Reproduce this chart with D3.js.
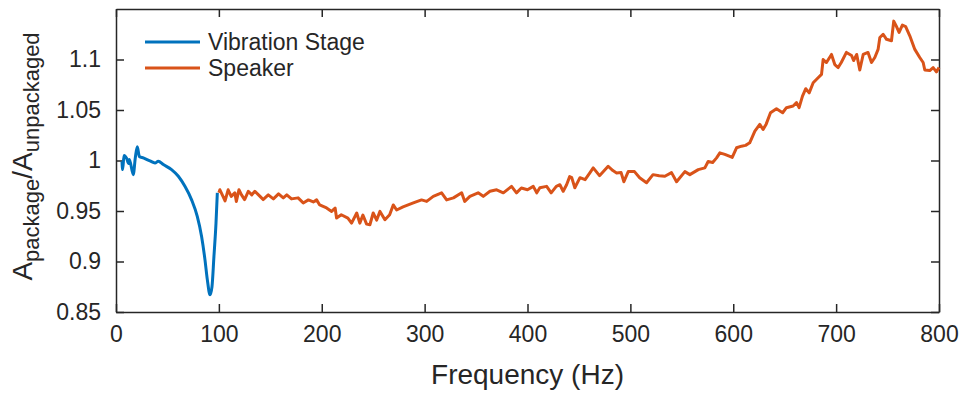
<!DOCTYPE html>
<html>
<head>
<meta charset="utf-8">
<script src="https://cdn.jsdelivr.net/npm/d3@7"></script>
<style>
    body { margin: 0; background: #fff; }
    #chart { width: 965px; height: 394px; }
    text { font-family: "Liberation Sans", Arial, Helvetica, sans-serif; fill: #262626; }
</style>
</head>
<body>
<div id="chart"></div>
<script>
// region Data
const stageFreq = [5.8, 6.5, 7.8, 10.4, 12.3, 13, 16.8, 18.8, 20.7, 22.7, 26.6, 33, 37.9, 41.1, 46, 54,
    60.6, 67, 73.5, 79, 83.2, 86.5, 88.8, 91.4, 93.3, 95.2, 97.2, 98.5];
const stageRatio = [0.999, 0.991, 1.005, 1.002, 0.997, 1.001, 0.986, 1.003, 1.0135, 1.004, 1.0026, 0.9996, 0.9976, 0.9993, 0.996, 0.991,
    0.9844, 0.9744, 0.961, 0.9446, 0.9248, 0.9016, 0.8818, 0.867, 0.875, 0.905, 0.938, 0.968];

const speakerFreq = [100, 101, 104, 106, 109, 112, 115.5, 117, 119.5, 122, 125, 128.6, 132, 135, 140, 143, 148, 153, 158, 162.6,
    166, 170.6, 177, 182, 187, 191.8, 195, 198, 204.7, 209.6, 213, 214.4, 219, 225.4, 229, 234, 237, 240, 243.6, 246.8,
    250, 253.4, 256.6, 261.4, 266, 269.5, 272.8, 279, 289, 297, 302, 308.4, 316.5, 321.4, 328, 336, 339, 344, 352, 357,
    363.5, 370, 376.5, 384.5, 389.3, 394, 400, 405.6, 409, 412, 418.6, 423, 428, 431.5, 434.7, 438, 441, 443, 446, 451,
    456, 460.6, 463.9, 470, 478.4, 483, 486.6, 491, 493.7, 497.9, 504, 509, 515.7, 522, 528, 533.5, 540, 544.9, 553, 557.8,
    566, 572.4, 575.6, 580, 583.8, 587, 591.8, 596.7, 599, 603.2, 608, 612, 616, 621, 625.8, 629, 632, 636.2, 642, 648,
    651.7, 658.2, 661.5, 664, 667.3, 670.5, 673.8, 677.7, 682.5, 685.8, 687.4, 690.6, 695.5, 698.7, 702, 705, 710, 715, 717, 720,
    723, 726.3, 731, 734.4, 737.6, 740.8, 742.5, 745.7, 749, 753.8, 756, 758.5, 761.2, 764.4, 767.6, 771.6, 776.5, 781.3, 784.6, 786.2,
    791, 794.3, 797.5, 800];
const speakerRatio = [0.968, 0.971, 0.9645, 0.960, 0.971, 0.9645, 0.968, 0.9595, 0.971, 0.966, 0.9613, 0.9695, 0.966, 0.9695, 0.9645, 0.9613, 0.966, 0.962, 0.967, 0.963,
    0.966, 0.962, 0.963, 0.958, 0.961, 0.959, 0.961, 0.956, 0.953, 0.9496, 0.953, 0.943, 0.9463, 0.943, 0.938, 0.948, 0.938, 0.946, 0.937, 0.9364,
    0.948, 0.941, 0.9496, 0.9414, 0.9463, 0.956, 0.951, 0.954, 0.958, 0.961, 0.9595, 0.9645, 0.968, 0.961, 0.963, 0.968, 0.9595, 0.9645, 0.968, 0.9645,
    0.9695, 0.971, 0.968, 0.9744, 0.968, 0.9728, 0.971, 0.9744, 0.968, 0.973, 0.9744, 0.968, 0.9744, 0.976, 0.9695, 0.976, 0.984, 0.983, 0.973, 0.983,
    0.981, 0.9877, 0.9927, 0.985, 0.9943, 0.990, 0.9877, 0.988, 0.979, 0.989, 0.989, 0.983, 0.978, 0.986, 0.985, 0.9844, 0.988, 0.979, 0.989, 0.986,
    0.991, 0.9927, 0.999, 0.998, 1.0026, 1.0076, 1.006, 1.004, 1.003, 1.0126, 1.0142, 1.015, 1.0175, 1.029, 1.0357, 1.0307, 1.036, 1.0473, 1.0513, 1.0473,
    1.0523, 1.054, 1.0573, 1.0523, 1.0638, 1.0711, 1.067, 1.077, 1.082, 1.0853, 1.100, 1.097, 1.105, 1.095, 1.092, 1.097, 1.107, 1.104, 1.099, 1.105,
    1.0896, 1.105, 1.107, 1.097, 1.102, 1.110, 1.1218, 1.125, 1.120, 1.1186, 1.138, 1.133, 1.1268, 1.134, 1.1326, 1.1235, 1.110, 1.102, 1.097, 1.0896,
    1.089, 1.092, 1.0877, 1.092];

const xTicks = [0, 100, 200, 300, 400, 500, 600, 700, 800];
const yTicks = [0.85, 0.9, 0.95, 1, 1.05, 1.1];
const seriesNames = ['Vibration Stage', 'Speaker'];
const seriesColors = ['#0072BD', '#D95319'];
// endregion

let w = 965,
    h = 394,
    m = {top: 9, right: 26, bottom: 82, left: 116},
    Mw = w - m.left - m.right,
    Mh = h - m.top - m.bottom,
    axisColor = '#262626',
    tickLen = 8;

let svg = d3.select('#chart')
    .append('svg')
    .attr('width', w)
    .attr('height', h)
    .append('g')
    .attr('transform', `translate(${m.left},${m.top})`);

const x = d3.scaleLinear().domain([0, 800]).range([0, Mw]);
const y = d3.scaleLinear().domain([0.85, 1.15]).range([Mh, 0]);

// axes, MATLAB style: ticks point inwards, box on
let styleAxis = g => {
    g.select('.domain').attr('stroke', axisColor).attr('stroke-width', 1.5);
    g.selectAll('.tick line').attr('stroke', axisColor).attr('stroke-width', 1.5);
    g.selectAll('.tick text').attr('fill', axisColor).style('font-size', '23px');
};

svg.append('g')
    .attr('transform', `translate(0,${Mh})`)
    .call(d3.axisBottom(x).tickValues(xTicks).tickSizeInner(-tickLen).tickSizeOuter(0).tickPadding(14))
    .call(styleAxis);
svg.append('g')
    .call(d3.axisTop(x).tickValues(xTicks).tickSizeInner(-tickLen).tickSizeOuter(0).tickFormat(''))
    .call(styleAxis);
svg.append('g')
    .call(d3.axisLeft(y).tickValues(yTicks).tickSizeInner(-tickLen).tickSizeOuter(0).tickPadding(15).tickFormat(d3.format('')))
    .call(styleAxis);
svg.append('g')
    .attr('transform', `translate(${Mw},0)`)
    .call(d3.axisRight(y).tickValues(yTicks).tickSizeInner(-tickLen).tickSizeOuter(0).tickFormat(''))
    .call(styleAxis);

// lines
let series = [
    d3.zip(stageFreq, stageRatio),
    d3.zip(speakerFreq, speakerRatio)
];
let curves = [d3.curveMonotoneX, d3.curveLinear];

series.forEach((s, i) => {
    let line = d3.line()
        .x(d => x(d[0]))
        .y(d => y(d[1]))
        .curve(curves[i]);
    svg.append('path')
        .datum(s)
        .attr('d', line)
        .attr('fill', 'none')
        .attr('stroke', seriesColors[i])
        .attr('stroke-width', 3)
        .attr('stroke-linejoin', 'round');
});

// legend
let legend = svg.append('g').attr('transform', 'translate(29,33)');
seriesNames.forEach((name, i) => {
    let g = legend.append('g').attr('transform', `translate(0,${i * 26})`);
    g.append('line')
        .attr('x1', 0).attr('x2', 55)
        .attr('stroke', seriesColors[i])
        .attr('stroke-width', 3);
    g.append('text')
        .attr('x', 63)
        .attr('dy', '0.35em')
        .style('font-size', '23px')
        .text(name);
});

// axis labels
svg.append('text')
    .attr('x', Mw / 2)
    .attr('y', Mh + 72)
    .attr('text-anchor', 'middle')
    .style('font-size', '28px')
    .text('Frequency (Hz)');

let yl = svg.append('text')
    .attr('transform', `translate(${-84},${Mh / 2 - 4}) rotate(-90)`)
    .attr('text-anchor', 'middle')
    .style('font-size', '28px');
yl.append('tspan').text('A');
yl.append('tspan').attr('dy', 7).style('font-size', '22px').text('package');
yl.append('tspan').attr('dy', -7).text('/A');
yl.append('tspan').attr('dy', 7).style('font-size', '22px').text('unpackaged');
</script>
</body>
</html>
